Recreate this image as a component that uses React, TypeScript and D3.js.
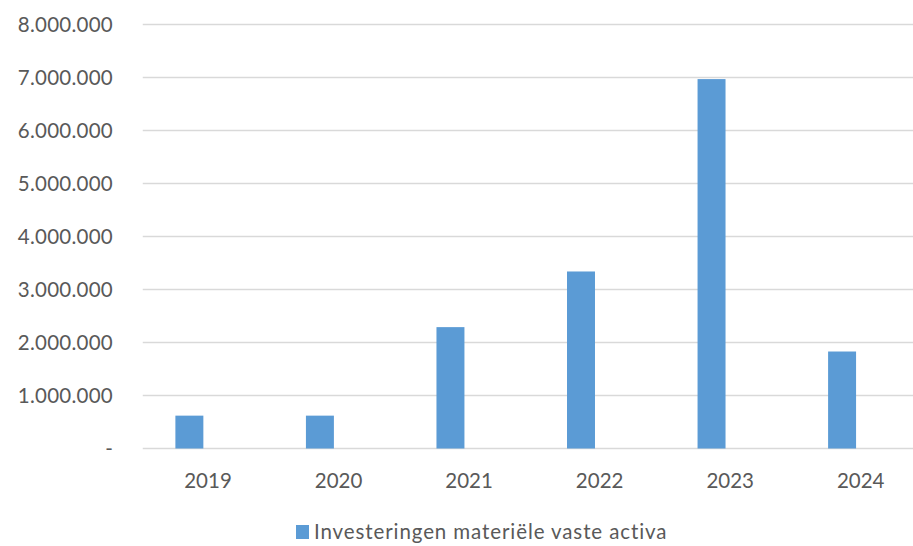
import React from "react";
import * as d3 from "d3";

const categories = ["2019", "2020", "2021", "2022", "2023", "2024"];
const seriesName = "Investeringen materiële vaste activa";
const values = [620000, 620000, 2290000, 3340000, 6970000, 1830000];
const yTicks = [0, 1000000, 2000000, 3000000, 4000000, 5000000, 6000000, 7000000, 8000000];
const slots = ["series", "empty"];

const W = 913;
const H = 546;
const margin = { left: 142.75, right: -13, top: 24.5, bottom: 97.5 };
const FONT = "Lato, 'Open Sans', sans-serif";
const TEXT = "#595959";
const BAR = "#5B9BD5";
const GRID = "#D9D9D9";

function fmt(v: number) {
  if (v === 0) return "-";
  return d3.format(",")(v).replace(/,/g, ".");
}

export default function App() {
  const x0 = d3
    .scaleBand<string>()
    .domain(categories)
    .range([margin.left, W - margin.right])
    .padding(0);
  const bw = x0.bandwidth();
  const x1 = d3
    .scaleBand<string>()
    .domain(slots)
    .range([bw * 0.25, bw * 0.75])
    .paddingInner(0.25)
    .paddingOuter(0);
  const y = d3
    .scaleLinear()
    .domain([0, 8000000])
    .range([H - margin.bottom, margin.top]);

  return (
    <svg
      width={W}
      height={H}
      style={{ position: "absolute", left: 0, top: 0, background: "#fff" }}
      fontFamily={FONT}
    >
      {yTicks.map((t) => (
        <g key={t}>
          <line
            x1={margin.left}
            x2={W - margin.right}
            y1={y(t)}
            y2={y(t)}
            stroke={GRID}
            strokeWidth={1.5}
          />
          <text
            x={113}
            y={y(t)}
            dy="0.35em"
            textAnchor="end"
            fontSize={20.5}
            fill={TEXT}
            letterSpacing={0.25}
          >
            {fmt(t)}
          </text>
        </g>
      ))}
      {categories.map((c, i) => (
        <rect
          key={c}
          x={(x0(c) as number) + (x1("series") as number)}
          y={y(values[i])}
          width={x1.bandwidth()}
          height={y(0) - y(values[i])}
          fill={BAR}
        />
      ))}
      {categories.map((c) => (
        <text
          key={c}
          x={(x0(c) as number) + bw / 2}
          y={488}
          textAnchor="middle"
          fontSize={20.5}
          fill={TEXT}
        >
          {c}
        </text>
      ))}
      <rect x={296} y={525} width={13} height={14} fill={BAR} />
      <text x={314} y={539} fontSize={20.5} fill={TEXT} letterSpacing={0.9}>
        {seriesName}
      </text>
    </svg>
  );
}
